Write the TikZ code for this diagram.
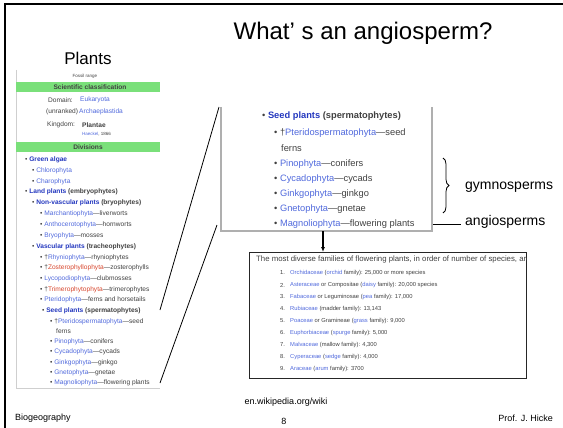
\documentclass[tikz,border=0pt]{standalone}
\usepackage{fontspec}
\setmainfont{Liberation Sans}
\usepackage{tikz}
\usetikzlibrary{arrows.meta,positioning,calc,decorations.pathreplacing}
\definecolor{taxgreen}{RGB}{122,224,122}
\definecolor{linkblue}{RGB}{80,105,220}
\definecolor{boldblue}{RGB}{35,55,190}
\definecolor{redlink}{RGB}{215,70,45}
\definecolor{shotgray}{RGB}{175,175,175}

\begin{document}
\begin{tikzpicture}[x=1pt,y=-1pt,
  small/.style={anchor=west,inner sep=0pt,text=black!75,font=\fontsize{6.6}{7.5}\selectfont},
  mid/.style={anchor=west,inner sep=0pt,text=black!75,font=\fontsize{9.3}{11}\selectfont},
  fam/.style={anchor=west,inner sep=0pt,text=black!75,font=\fontsize{5.8}{7}\selectfont},
  sidetext/.style={anchor=west,inner sep=0pt,font=\fontsize{14}{16}\selectfont},
  foot/.style={inner sep=0pt,font=\fontsize{9}{11}\selectfont}]
  \useasboundingbox (0,0) rectangle (563,428);
  % Slide frame
  \draw[line width=2pt] (4.5,428) -- (4.5,4.5) -- (563,4.5);
  \node[font=\fontsize{24}{28}\selectfont] (title) at (363,33) {What’ s an angiosperm?};
  \node[font=\fontsize{17}{20}\selectfont] (plants) at (88,58) {Plants};
  % Taxobox screenshot
  \draw[shotgray!60] (16,70) -- (16,388) -- (160,388);
  \begin{scope}
    \clip (16,70) rectangle (160,390);
    \node[small,anchor=center,font=\fontsize{4.5}{5}\selectfont] (fossil) at (85,76) {Fossil range};
    \fill[taxgreen] (16,82.5) rectangle (160,92.5);
    \node[small,anchor=center] (sciclass) at (90,87.5) {\textbf{Scientific classification}};
    \node[small] (domain) at (48,100) {Domain:};
    \node[small] (eukar) at (80,100) {\textcolor{linkblue}{Eukaryota}};
    \node[small] (unranked) at (46,112) {(unranked)};
    \node[small] (archae) at (79,112) {\textcolor{linkblue}{Archaeplastida}};
    \node[small] (kingdom) at (47,125) {Kingdom:};
    \node[small] (plantae) at (82,125) {\textbf{Plantae}};
    \node[small,font=\fontsize{4.5}{5}\selectfont] (haeckel) at (82,134) {\textcolor{linkblue}{Haeckel}, 1866};
    \fill[taxgreen] (16,142) rectangle (160,152);
    \node[small,anchor=center] (divisions) at (88,147) {\textbf{Divisions}};
    % Division list
    \node[small] (algae) at (25,160) {\textbullet\ \textbf{\textcolor{boldblue}{Green algae}}};
    \node[small] (chloro) at (32,171) {\textbullet\ \textcolor{linkblue}{Chlorophyta}};
    \node[small] (charo) at (32,182) {\textbullet\ \textcolor{linkblue}{Charophyta}};
    \node[small] (land) at (25,192) {\textbullet\ \textbf{\textcolor{boldblue}{Land plants} (embryophytes)}};
    \node[small] (nonvasc) at (32,203) {\textbullet\ \textbf{\textcolor{boldblue}{Non-vascular plants} (bryophytes)}};
    \node[small] (march) at (40,214) {\textbullet\ \textcolor{linkblue}{Marchantiophyta}—liverworts};
    \node[small] (antho) at (40,225) {\textbullet\ \textcolor{linkblue}{Anthocerotophyta}—hornworts};
    \node[small] (bryo) at (40,236) {\textbullet\ \textcolor{linkblue}{Bryophyta}—mosses};
    \node[small] (vasc) at (32,247) {\textbullet\ \textbf{\textcolor{boldblue}{Vascular plants} (tracheophytes)}};
    \node[small] (rhynio) at (40,258) {\textbullet\ †\textcolor{linkblue}{Rhyniophyta}—rhyniophytes};
    \node[small] (zoster) at (40,268) {\textbullet\ †\textcolor{redlink}{Zosterophyllophyta}—zosterophylls};
    \node[small] (lyco) at (40,279) {\textbullet\ \textcolor{linkblue}{Lycopodiophyta}—clubmosses};
    \node[small] (trimero) at (40,290) {\textbullet\ †\textcolor{redlink}{Trimerophytophyta}—trimerophytes};
    \node[small] (pterido) at (40,300) {\textbullet\ \textcolor{linkblue}{Pteridophyta}—ferns and horsetails};
    \node[small] (seedL) at (42,311) {\textbullet\ \textbf{\textcolor{boldblue}{Seed plants} (spermatophytes)}};
    \node[small] (pspermL) at (50,322) {\textbullet\ †\textcolor{linkblue}{Pteridospermatophyta}—seed};
    \node[small] (fernsL) at (56,331) {ferns};
    \node[small] (pinoL) at (50,342) {\textbullet\ \textcolor{linkblue}{Pinophyta}—conifers};
    \node[small] (cycaL) at (50,352) {\textbullet\ \textcolor{linkblue}{Cycadophyta}—cycads};
    \node[small] (ginkL) at (50,363) {\textbullet\ \textcolor{linkblue}{Ginkgophyta}—ginkgo};
    \node[small] (gnetL) at (50,373) {\textbullet\ \textcolor{linkblue}{Gnetophyta}—gnetae};
    \node[small] (magnoL) at (50,383) {\textbullet\ \textcolor{linkblue}{Magnoliophyta}—flowering plants};
  \end{scope}
  % Zoom lines
  \coordinate (zoomA) at (160,310);
  \coordinate (zoomB) at (219,107);
  \coordinate (zoomC) at (160,383);
  \coordinate (zoomD) at (217,225);
  \draw[line width=0.8pt] (zoomA) -- (zoomB);
  \draw[line width=0.8pt] (zoomC) -- (zoomD);
  % Seed plant screenshot
  \draw[shotgray,line width=1.2pt] (221,107) -- (221,231) -- (432,231) -- (432,107);
  \node[mid] (seedR) at (262,116) {\textbullet\ \textbf{\textcolor{boldblue}{Seed plants} (spermatophytes)}};
  \node[mid] (psperm) at (274,133) {\textbullet\ †\textcolor{linkblue}{Pteridospermatophyta}—seed};
  \node[mid] (ferns) at (281,148) {ferns};
  \node[mid] (pino) at (274,164) {\textbullet\ \textcolor{linkblue}{Pinophyta}—conifers};
  \node[mid] (cyca) at (274,179) {\textbullet\ \textcolor{linkblue}{Cycadophyta}—cycads};
  \node[mid] (gink) at (274,194) {\textbullet\ \textcolor{linkblue}{Ginkgophyta}—ginkgo};
  \node[mid] (gnet) at (274,209) {\textbullet\ \textcolor{linkblue}{Gnetophyta}—gnetae};
  \node[mid] (magno) at (274,224) {\textbullet\ \textcolor{linkblue}{Magnoliophyta}—flowering plants};
  % Labels
  \draw[decorate,decoration={brace,amplitude=6pt},line width=0.8pt] (443,158) -- (443,213);
  \node[sidetext] (gymno) at (465,187) {gymnosperms};
  \node[sidetext] (angio) at (465,222) {angiosperms};
  \coordinate (angiostart) at (433,224);
  \draw[line width=0.8pt] (angiostart) -- ([xshift=-4pt]angio.west |- angiostart);
  % Family table
  \node[draw=black!85,line width=0.9pt,minimum width=277pt,minimum height=126pt,
        anchor=north west,inner sep=0pt] (famtable) at (249,252) {};
  \coordinate (arrtop) at (323,231);
  \draw[-{Latex[length=5pt,width=4pt]},line width=1.1pt] (arrtop) -- (arrtop |- famtable.north);
  \begin{scope}
    \clip (famtable.north west) rectangle (famtable.south east);
    \node[fam,font=\fontsize{7.8}{9}\selectfont] (famhead) at (256,259)
      {The most diverse families of flowering plants, in order of number of species, are:};
  \end{scope}
  \node[fam] (n1) at (280,273) {1.};
  \node[fam] (f1) at (290,273) {\textcolor{linkblue}{Orchidaceae} (\textcolor{linkblue}{orchid} family): 25,000 or more species};
  \node[fam] (n2) at (280,285) {2.};
  \node[fam] (f2) at (290,285) {\textcolor{linkblue}{Asteraceae} or Compositae (\textcolor{linkblue}{daisy} family): 20,000 species};
  \node[fam] (n3) at (280,297) {3.};
  \node[fam] (f3) at (290,297) {\textcolor{linkblue}{Fabaceae} or Leguminosae (\textcolor{linkblue}{pea} family): 17,000};
  \node[fam] (n4) at (280,309) {4.};
  \node[fam] (f4) at (290,309) {\textcolor{linkblue}{Rubiaceae} (madder family): 13,143};
  \node[fam] (n5) at (280,321) {5.};
  \node[fam] (f5) at (290,321) {\textcolor{linkblue}{Poaceae} or Gramineae (\textcolor{linkblue}{grass} family): 9,000};
  \node[fam] (n6) at (280,333) {6.};
  \node[fam] (f6) at (290,333) {\textcolor{linkblue}{Euphorbiaceae} (\textcolor{linkblue}{spurge} family): 5,000};
  \node[fam] (n7) at (280,345) {7.};
  \node[fam] (f7) at (290,345) {\textcolor{linkblue}{Malvaceae} (mallow family): 4,300};
  \node[fam] (n8) at (280,357) {8.};
  \node[fam] (f8) at (290,357) {\textcolor{linkblue}{Cyperaceae} (\textcolor{linkblue}{sedge} family): 4,000};
  \node[fam] (n9) at (280,369) {9.};
  \node[fam] (f9) at (290,369) {\textcolor{linkblue}{Araceae} (\textcolor{linkblue}{arum} family): 3700};
  % Footer
  \node[foot] (source) at (286,402) {en.wikipedia.org/wiki};
  \node[foot,anchor=west] (course) at (15,418) {Biogeography};
  \node[foot] (pagenum) at (284,421) {8};
  \node[foot,anchor=east] (author) at (553,418) {Prof. J. Hicke};
\end{tikzpicture}
\end{document}
